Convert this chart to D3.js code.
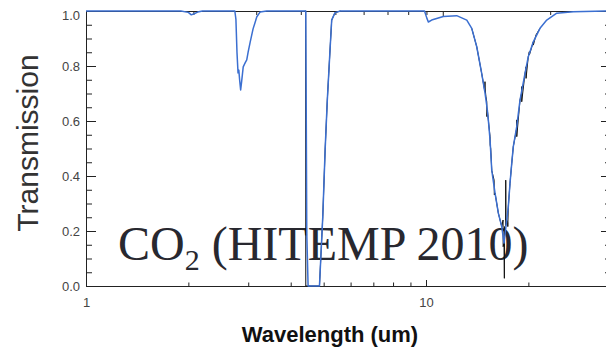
<!DOCTYPE html>
<html>
<head>
<meta charset="utf-8">
<script src="https://cdn.jsdelivr.net/npm/d3@7"></script>
<style>
  body { margin: 0; background: #fff; }
  svg { display: block; font-family: "Liberation Sans", Arial, sans-serif; }
</style>
</head>
<body>
<svg id="chart" width="606" height="349"></svg>
<script>
// [wavelength (um), transmission]
const smoothed = [
  [1.0, 1.0], [1.9, 1.0], [2.0, 0.995], [2.04, 0.986], [2.08, 0.99], [2.13, 0.996], [2.2, 1.0],
  [2.74, 1.0], [2.76, 0.97], [2.78, 0.85], [2.80, 0.775], [2.815, 0.785], [2.83, 0.75],
  [2.85, 0.713], [2.87, 0.745], [2.90, 0.797], [2.94, 0.812], [2.97, 0.822], [3.0, 0.852],
  [3.04, 0.887], [3.1, 0.935], [3.18, 0.979], [3.25, 0.996], [3.4, 1.0],
  [4.43, 1.0], [4.445, 0.6], [4.46, 0.19], [4.50, 0.0], [4.86, 0.0], [4.97, 0.252],
  [5.05, 0.495], [5.125, 0.676], [5.22, 0.858], [5.28, 0.967], [5.40, 0.994], [5.6, 1.0],
  [9.9, 1.0], [10.05, 0.975], [10.16, 0.96], [10.39, 0.967], [11.24, 0.98], [12.31, 0.983],
  [13.18, 0.967], [13.63, 0.937], [14.10, 0.87], [14.58, 0.773], [14.91, 0.702], [15.15, 0.64],
  [15.25, 0.604], [15.43, 0.531], [15.61, 0.42], [15.96, 0.338], [16.32, 0.265], [16.70, 0.216],
  [16.96, 0.156], [17.27, 0.24], [17.46, 0.288], [17.66, 0.373], [17.87, 0.446], [18.06, 0.507],
  [18.48, 0.579], [18.90, 0.676], [19.55, 0.773], [19.99, 0.834], [20.68, 0.888], [21.64, 0.937],
  [22.65, 0.967], [24.24, 0.992], [27.12, 0.997], [35, 1.0]
];

// full resolution lines, only where they show past the smoothed curve
const lines43 = [
  [4.40, 1.0], [4.425, 1.0], [4.43, 0.0], [4.86, 0.0], [4.97, 0.252], [5.05, 0.495],
  [5.125, 0.676], [5.22, 0.858], [5.28, 0.967], [5.40, 0.994], [5.6, 1.0]
];
const lines15 = [
  [13.63, 0.937], [14.10, 0.87], [14.58, 0.773], [14.88, 0.71], [14.91, 0.743], [14.92, 0.72],
  [15.0, 0.69], [15.09, 0.67], [15.10, 0.616], [15.15, 0.64], [15.25, 0.604], [15.43, 0.543],
  [15.44, 0.513], [15.5, 0.50], [15.61, 0.42], [15.86, 0.385], [15.88, 0.331], [15.96, 0.338],
  [16.32, 0.265], [16.70, 0.216], [16.85, 0.24], [16.86, 0.143], [16.96, 0.156], [17.0, 0.028],
  [17.02, 0.216], [17.15, 0.22], [17.16, 0.385], [17.18, 0.24], [17.27, 0.24], [17.39, 0.23],
  [17.40, 0.216], [17.46, 0.288], [17.66, 0.373], [17.87, 0.446], [18.06, 0.507], [18.46, 0.57],
  [18.48, 0.604], [18.49, 0.543], [18.90, 0.676], [19.10, 0.70], [19.11, 0.725], [19.12, 0.67],
  [19.55, 0.773], [19.67, 0.79], [19.68, 0.797], [19.69, 0.755], [19.99, 0.834], [20.13, 0.852],
  [20.14, 0.84], [20.68, 0.888], [20.69, 0.876], [21.06, 0.913], [21.64, 0.937]
];

const yMajor = [0, 0.2, 0.4, 0.6, 0.8, 1.0];
const yMinor = [0.05, 0.1, 0.15, 0.25, 0.3, 0.35, 0.45, 0.5, 0.55, 0.65, 0.7, 0.75, 0.85, 0.9, 0.95];
const xMajor = [1, 10];
const xMinor = [2, 3, 4, 5, 6, 7, 8, 9, 20];
const topMajor = [10];
const topMinor = [2, 3, 4, 5, 6, 7, 8, 9, 20];

const plotLeft = 86, plotTop = 11, plotBottom = 286, plotRight = 611;

const svg = d3.select('#chart');
const x = d3.scaleLog().domain([1, 35]).range([plotLeft, plotRight]);
const xTop = d3.scaleLog().domain([1, 30]).range([plotLeft, 613]);
const y = d3.scaleLinear().domain([0, 1]).range([plotBottom, plotTop]);

function styleAxis(g) {
  g.select('.domain').attr('stroke', '#222');
  g.selectAll('.tick line').attr('stroke', '#222');
  g.selectAll('.tick text').attr('fill', '#444').attr('font-size', 13)
    .attr('font-family', '"Liberation Sans", Arial, sans-serif');
}

// left axis
svg.append('g').attr('transform', `translate(${plotLeft},0)`)
  .call(d3.axisLeft(y).tickValues(yMajor).tickFormat(d3.format('.1f'))
    .tickSizeInner(-10).tickSizeOuter(0).tickPadding(6))
  .call(styleAxis)
  .call(g => g.selectAll('.tick text').filter(d => d === 1).attr('dy', '0.62em'));
svg.append('g').attr('transform', `translate(${plotLeft},0)`)
  .call(d3.axisLeft(y).tickValues(yMinor).tickFormat('').tickSizeInner(-6).tickSizeOuter(0))
  .call(styleAxis);

// right axis
svg.append('g').attr('transform', `translate(${plotRight},0)`)
  .call(d3.axisLeft(y).tickValues(yMajor).tickFormat('').tickSizeInner(10).tickSizeOuter(0))
  .call(styleAxis);
svg.append('g').attr('transform', `translate(${plotRight},0)`)
  .call(d3.axisLeft(y).tickValues(yMinor).tickFormat('').tickSizeInner(6).tickSizeOuter(0))
  .call(styleAxis);

// bottom axis
svg.append('g').attr('transform', `translate(0,${plotBottom})`)
  .call(d3.axisBottom(x).tickValues(xMajor).tickFormat(d3.format('d'))
    .tickSizeInner(-6).tickSizeOuter(0).tickPadding(12))
  .call(styleAxis);
svg.append('g').attr('transform', `translate(0,${plotBottom})`)
  .call(d3.axisBottom(x).tickValues(xMinor).tickFormat('').tickSizeInner(-3.5).tickSizeOuter(0))
  .call(styleAxis);

// top axis
svg.append('g').attr('transform', `translate(0,${plotTop})`)
  .call(d3.axisTop(xTop).tickValues(topMajor).tickFormat('').tickSizeInner(-6).tickSizeOuter(0))
  .call(styleAxis);
svg.append('g').attr('transform', `translate(0,${plotTop})`)
  .call(d3.axisTop(xTop).tickValues(topMinor).tickFormat('').tickSizeInner(-4).tickSizeOuter(0))
  .call(styleAxis);

// titles
svg.append('text')
  .attr('transform', 'translate(38,143) rotate(-90)')
  .attr('text-anchor', 'middle')
  .attr('font-size', 30)
  .attr('fill', '#333')
  .text('Transmission');

svg.append('text')
  .attr('x', 330).attr('y', 342)
  .attr('text-anchor', 'middle')
  .attr('font-size', 22)
  .attr('font-weight', 'bold')
  .attr('fill', '#111')
  .text('Wavelength (um)');

const label = svg.append('text')
  .attr('x', 118).attr('y', 260)
  .attr('font-family', '"Liberation Serif", "Times New Roman", serif')
  .attr('font-size', 48)
  .attr('fill', '#28282f');
label.append('tspan').text('CO');
label.append('tspan').attr('font-size', 30).attr('dy', 10).text('2');
label.append('tspan').attr('dy', -10).text(' (HITEMP 2010)');

// curves
const line = d3.line().x(d => x(d[0])).y(d => y(d[1]));

svg.append('path').datum(lines43)
  .attr('d', line).attr('fill', 'none').attr('stroke', '#111').attr('stroke-width', 1);
svg.append('path').datum(lines15)
  .attr('d', line).attr('fill', 'none').attr('stroke', '#111').attr('stroke-width', 1);

svg.append('path').datum(smoothed)
  .attr('d', line)
  .attr('fill', 'none')
  .attr('stroke', '#3b6fd1')
  .attr('stroke-width', 1.5)
  .attr('stroke-linejoin', 'round');
</script>
</body>
</html>
